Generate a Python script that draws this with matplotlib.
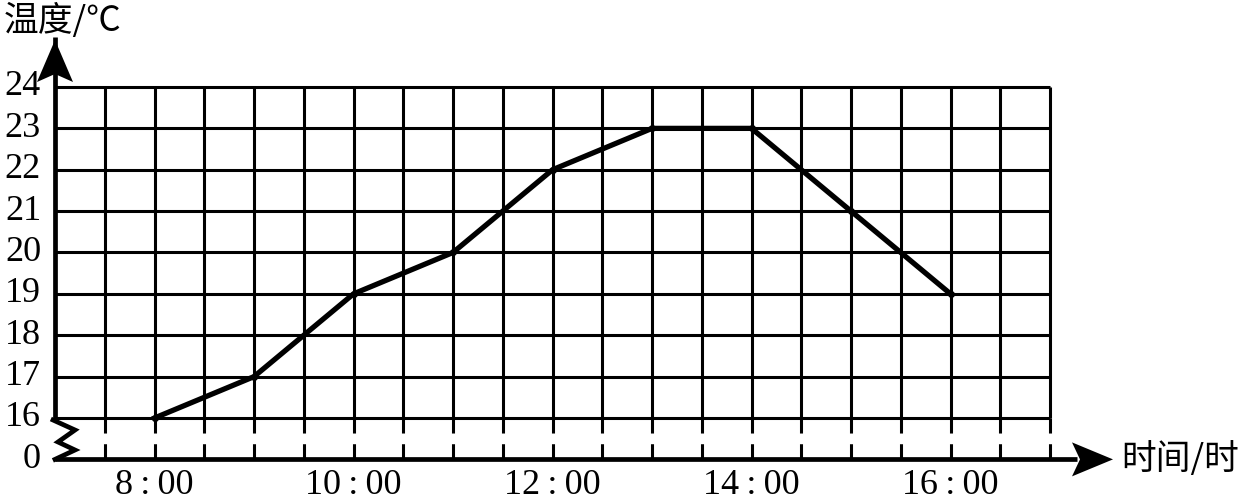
import matplotlib
matplotlib.use("Agg")
import matplotlib.pyplot as plt
from matplotlib.patches import Polygon

# ---- data ----
hours = [8, 9, 10, 11, 12, 13, 14, 15, 16]
temps = [16, 17, 19, 20, 22, 23, 23, 21, 19]
x_tick_hours = [8, 10, 12, 14, 16]
x_tick_labels = ["8:00", "10:00", "12:00", "14:00", "16:00"]
y_tick_values = [16, 17, 18, 19, 20, 21, 22, 23, 24]
y_zero_label = "0"
x_label = "时间/时"
y_label = "温度/℃"

# ---- layout ----
W, H = 1254, 503
DPI = 100
X0, X1 = 7.0, 17.0        # grid range (hours)
Y0, Y1 = 16, 24           # grid range (temp)
BREAK_Y = 15.0            # where "0" sits
PX_X = 99.5               # pixels per hour
PX_Y = 41.375             # pixels per degree
LEFT_PX, BASE_PX = 55, 418

fig = plt.figure(figsize=(W / DPI, H / DPI), dpi=DPI)
ax = fig.add_axes([0, 0, 1, 1])
ax.set_xlim(X0 - LEFT_PX / PX_X, X0 + (W - LEFT_PX) / PX_X)
ax.set_ylim(Y0 - (H - BASE_PX) / PX_Y, Y0 + BASE_PX / PX_Y)
ax.set_axis_off()

def px(dx=0, dy=0):
    return dx / PX_X, dy / PX_Y

grid_lw = 2.2
axis_lw = 3.4
num_font = dict(family=["Liberation Serif", "DejaVu Serif"], fontsize=26, color="black")
cjk_font = dict(family=["Noto Sans CJK SC", "DejaVu Sans"], fontsize=25, color="black")

# grid
n_cols = int(round((X1 - X0) / 0.5))
for i in range(1, n_cols + 1):
    xv = X0 + 0.5 * i
    ax.plot([xv, xv], [Y0, Y1], color="black", lw=grid_lw, solid_capstyle="butt")
    ax.plot([xv, xv], [BREAK_Y, Y0], color="black", lw=grid_lw,
            dashes=(5, 3.5), solid_capstyle="butt")
for yv in y_tick_values:
    ax.plot([X0, X1], [yv, yv], color="black", lw=grid_lw, solid_capstyle="butt")

# y axis with zigzag break
ax.plot([X0, X0], [Y0 - px(dy=3)[1], Y1 + px(dy=50)[1]], color="black", lw=axis_lw,
        solid_capstyle="butt")
zx = [X0 - px(2)[0], X0 + px(20)[0], X0 + px(3)[0], X0 + px(20)[0], X0]
zy = [Y0 - px(dy=2)[1], Y0 - px(dy=12)[1], Y0 - px(dy=24)[1], Y0 - px(dy=32)[1], BREAK_Y]
ax.plot(zx, zy, color="black", lw=axis_lw, solid_joinstyle="miter")

# x axis
xa_tip = X1 + px(63)[0]
xa_base = X1 + px(22)[0]
ax.plot([X0, xa_base + px(5)[0]], [BREAK_Y, BREAK_Y], color="black", lw=axis_lw,
        solid_capstyle="butt")
ax.add_patch(Polygon([[xa_base, BREAK_Y + px(dy=17)[1]], [xa_tip, BREAK_Y],
                      [xa_base, BREAK_Y - px(dy=17)[1]], [xa_base + px(8)[0], BREAK_Y]],
                     closed=True, color="black", lw=0))
# y arrow head
ya_tip = Y1 + px(dy=47)[1]
ya_base = Y1 + px(dy=5)[1]
ax.add_patch(Polygon([[X0 - px(18)[0], ya_base], [X0, ya_tip],
                      [X0 + px(18)[0], ya_base], [X0, ya_base + px(dy=8)[1]]],
                     closed=True, color="black", lw=0))

# data line
ax.plot(hours, temps, color="black", lw=3.8, solid_joinstyle="round",
        marker="o", markersize=4, zorder=5)

# tick labels
lab_x = X0 - px(14)[0]
for yv in y_tick_values:
    ax.text(lab_x, yv, str(yv), ha="right", va="center", **num_font)
ax.text(lab_x, BREAK_Y, y_zero_label, ha="right", va="center", **num_font)
for hv, lab in zip(x_tick_hours, x_tick_labels):
    ax.text(hv, BREAK_Y - px(dy=26)[1], lab.replace(":", "\u2009:\u2009"),
            ha="center", va="center", **num_font)

# axis titles
ax.text(X0 - px(51)[0], Y1 + px(dy=66)[1], y_label, ha="left", va="center", **cjk_font)
ax.text(xa_tip + px(8)[0], BREAK_Y, x_label, ha="left", va="center", **cjk_font)

fig.savefig("out.png", dpi=DPI)
